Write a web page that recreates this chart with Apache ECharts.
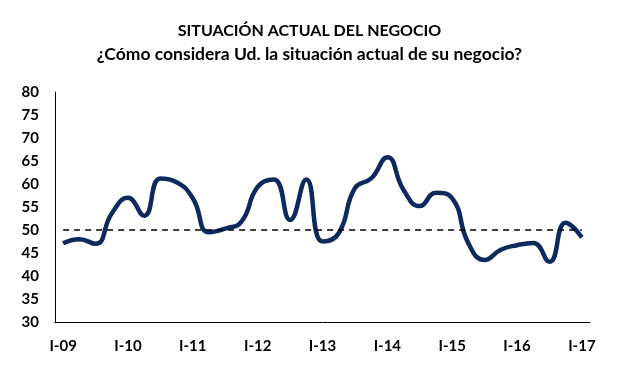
<!DOCTYPE html>
<html>
<head>
<meta charset="utf-8">
<script src="https://cdn.jsdelivr.net/npm/echarts@6/dist/echarts.min.js"></script>
<style>html,body{margin:0;padding:0;background:#fff}#c{width:619px;height:386px}</style>
</head>
<body>
<div id="c"></div>
<script>
const years = ['09','10','11','12','13','14','15','16','17'];
const quarters = ['I','II','III','IV'];
const categories = [];
years.forEach((y, yi) => {
  quarters.forEach(q => {
    if (yi === years.length - 1 && q !== 'I') return;
    categories.push(q + '-' + y);
  });
});
const values = [47.1, 48, 47, 53.6, 57, 53.1, 61.2, 60.4, 56.9, 49.5, 50.3, 51.8,
  59.4, 61, 52.2, 61, 47.5, 49.3, 59.1, 61.2, 65.8, 58.7, 55.2, 58.1,
  56.9, 47.1, 43.5, 45.7, 46.7, 47.2, 43.1, 51.6, 48.4];
const reference = 50;
const yTicks = {min: 30, max: 80, interval: 5};

const font = 'Lato, "Open Sans", sans-serif';
const chart = echarts.init(document.getElementById('c'));
chart.setOption({
  animation: false,
  title: {
    text: 'SITUACIÓN ACTUAL DEL NEGOCIO',
    subtext: '¿Cómo considera Ud. la situación actual de su negocio?',
    left: 'center', top: 18, itemGap: 6,
    textStyle: {fontFamily: font, fontWeight: 'bold', fontSize: 16, color: '#000'},
    subtextStyle: {fontFamily: font, fontWeight: 'bold', fontSize: 17.5, color: '#000'}
  },
  grid: {left: 55, right: 29, top: 92, bottom: 64},
  xAxis: {
    type: 'category', data: categories, boundaryGap: true,
    axisLine: {lineStyle: {color: '#000', width: 1}},
    axisTick: {show: false},
    axisLabel: {interval: 3, margin: 17, color: '#000', fontFamily: font, fontWeight: 'bold', fontSize: 15}
  },
  yAxis: {
    type: 'value', min: yTicks.min, max: yTicks.max, interval: yTicks.interval,
    splitLine: {show: false},
    axisLine: {show: true, lineStyle: {color: '#000', width: 1}},
    axisTick: {show: false},
    axisLabel: {margin: 16, color: '#000', fontFamily: font, fontWeight: 'bold', fontSize: 15}
  },
  series: [{
    type: 'line', data: values, smooth: 0.5, symbol: 'none',
    lineStyle: {color: '#0c2a5e', width: 4.5},
    markLine: {
      silent: true, symbol: 'none', label: {show: false},
      lineStyle: {color: '#000', type: [6, 5], width: 1.5},
      data: [[{coord: [categories[0], reference]}, {coord: [categories[categories.length - 1], reference]}]]
    }
  }]
});
</script>
</body>
</html>
